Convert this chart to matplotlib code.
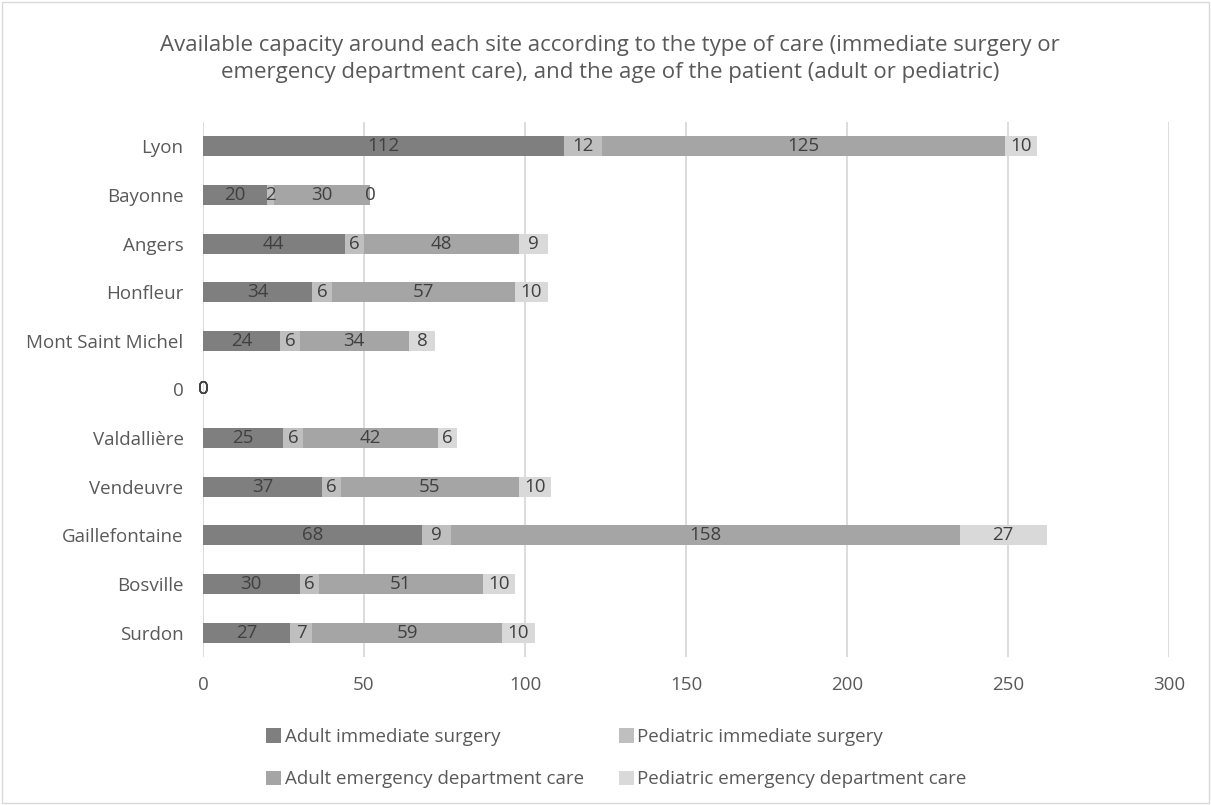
import matplotlib.pyplot as plt
from matplotlib.patches import Rectangle

# data, top to bottom as shown
sites = ["Lyon", "Bayonne", "Angers", "Honfleur", "Mont Saint Michel", "0",
         "Valdallière", "Vendeuvre", "Gaillefontaine", "Bosville", "Surdon"]
adult_surgery = [112, 20, 44, 34, 24, 0, 25, 37, 68, 30, 27]
ped_surgery = [12, 2, 6, 6, 6, 0, 6, 6, 9, 6, 7]
adult_ed = [125, 30, 48, 57, 34, 0, 42, 55, 158, 51, 59]
ped_ed = [10, 0, 9, 10, 8, 0, 6, 10, 27, 10, 10]

series = [
    ("Adult immediate surgery", adult_surgery, "#7f7f7f"),
    ("Pediatric immediate surgery", ped_surgery, "#bfbfbf"),
    ("Adult emergency department care", adult_ed, "#a5a5a5"),
    ("Pediatric emergency department care", ped_ed, "#d9d9d9"),
]

plt.rcParams['font.family'] = ['Open Sans', 'DejaVu Sans']

fig = plt.figure(figsize=(12.11, 8.05), dpi=100)
ax = fig.add_axes([0.1676, 0.1839, 0.7977, 0.6646])

y = list(range(len(sites)))
left = [0] * len(sites)
handles = {}
for name, vals, col in series:
    bars = ax.barh(y, vals, left=left, height=0.41, color=col, label=name, zorder=2)
    handles[name] = bars
    for i, v in enumerate(vals):
        ax.text(left[i] + v / 2, y[i], str(v), ha="center", va="center",
                fontsize=13.5, color="#404040", zorder=3)
    left = [a + b for a, b in zip(left, vals)]

ax.set_xlim(0, 300)
ax.set_ylim(len(sites) - 0.5, -0.5)
ax.set_yticks(y)
ax.set_yticklabels(sites)
ax.set_xticks(range(0, 301, 50))
ax.tick_params(length=0, labelsize=13.5, labelcolor="#595959")
ax.tick_params(axis="y", pad=14)
ax.tick_params(axis="x", pad=14)
for s in ax.spines.values():
    s.set_visible(False)
ax.grid(axis="x", color="#d9d9d9", linewidth=1.3, zorder=0)
ax.set_axisbelow(True)

fig.text(0.504, 0.927, "Available capacity around each site according to the type of care (immediate surgery or\n"
         "emergency department care), and the age of the patient (adult or pediatric)",
         ha="center", va="center", fontsize=16, color="#595959", linespacing=1.4)

order = ["Adult immediate surgery", "Adult emergency department care",
         "Pediatric immediate surgery", "Pediatric emergency department care"]
fig.legend([handles[k] for k in order], order, ncol=2, loc="center left",
           bbox_to_anchor=(0.2197, 0.058), frameon=False, fontsize=13.5,
           labelcolor="#595959", handlelength=0.8, handleheight=0.8,
           handletextpad=0.2, columnspacing=1.85, labelspacing=1.3,
           borderpad=0, borderaxespad=0)

fig.patches.append(Rectangle((0.002, 0.002), 0.996, 0.996, transform=fig.transFigure,
                             fill=False, edgecolor="#d9d9d9", linewidth=1))

fig.savefig("out.png", dpi=100)
